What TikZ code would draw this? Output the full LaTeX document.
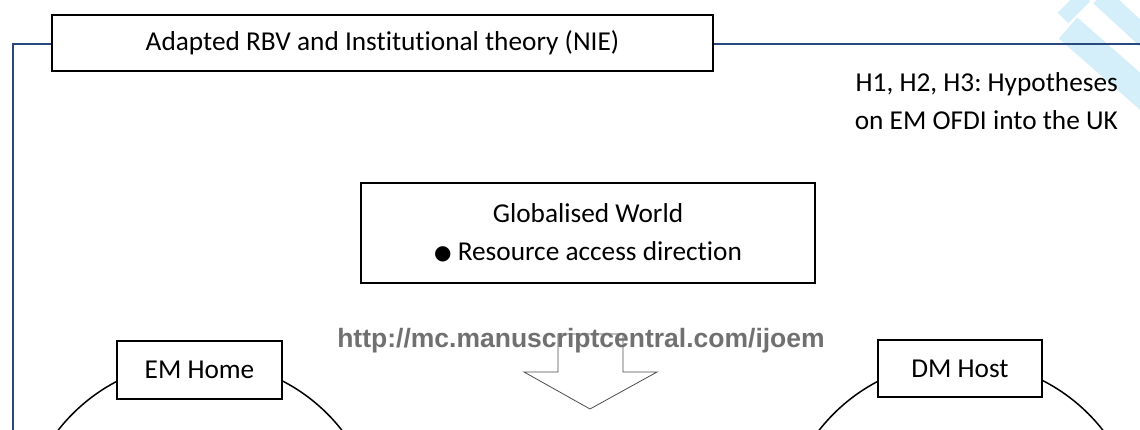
\documentclass[tikz,border=0pt]{standalone}
\usepackage{fontspec}
\setmainfont{Carlito}[Ligatures=NoCommon]
\newfontfamily\urlfont{Liberation Sans}
\newfontfamily\symfont{DejaVu Sans}
\frenchspacing
\definecolor{frameblue}{RGB}{41,72,125}
\definecolor{markblue}{RGB}{212,238,250}
\definecolor{urlgrey}{RGB}{112,112,112}
\tikzset{%
  % Specifications for style of nodes:
        box/.style = {rectangle, draw=black, line width=1.9pt, fill=white,
                      inner sep=0pt, text centered, align=center},
   titlebox/.style = {box, minimum width=661, minimum height=56},
   worldbox/.style = {box, minimum width=454, minimum height=100},
 countrybox/.style = {box, minimum width=165, minimum height=58},
     region/.style = {circle, draw=black, line width=1.5pt,
                      minimum size=360, inner sep=0pt},
       note/.style = {align=right, inner sep=0pt},
  watermark/.style = {font=\urlfont\bfseries\fontsize{26.5}{30}\selectfont,
                      text=urlgrey, inner sep=0pt},
  arrowline/.style = {draw=black!70, line width=0.8pt}
}

\begin{document}
\begin{tikzpicture}[x=1pt, y=-1pt, every node/.style={font=\fontsize{27.3}{38}\selectfont}]
  \useasboundingbox (0,0) rectangle (1140,430);
  % watermark strokes in the corner
  \draw[markblue, line width=15] (1063,18) -- (1085,-4);
  \draw[markblue, line width=28] (1068,28) -- (1150,100);
  \draw[markblue, line width=20] (1100,-4) -- (1150,42);

  % outer frame
  \coordinate (frameNE) at (1140,44);
  \coordinate (frameSW) at (13,430);
  \draw[frameblue, line width=1.6pt] (frameNE) -| (frameSW);

  \node (theory) [titlebox] at (382.5,43) {Adapted RBV and Institutional theory (NIE)};
  \node (hyp)    [note, anchor=east] at (1118,101.5) {H1, H2, H3: Hypotheses\\on EM OFDI into the UK};
  \node (world)  [worldbox] at (588,233) {Globalised World\\\raisebox{1.5pt}{\symfont\fontsize{20}{20}\selectfont ●} Resource access direction};

  \node (emregion) [region] at (200,541) {};
  \node (dmregion) [region] at (961,541) {};
  \node (emhome) [countrybox] at (199.5,370) {EM Home};
  \node (dmhost) [countrybox, minimum width=164, minimum height=57] at (960,368.5) {DM Host};

  % downward block arrow
  \draw[arrowline] (558,334) -- (623,334) -- (623,372) -- (657,372)
                   -- (590,409) -- (524,372) -- (558,372) -- cycle;
  \node (url) [watermark, anchor=base] at (581,347) {http://mc.manuscriptcentral.com/ijoem};
\end{tikzpicture}
\end{document}
